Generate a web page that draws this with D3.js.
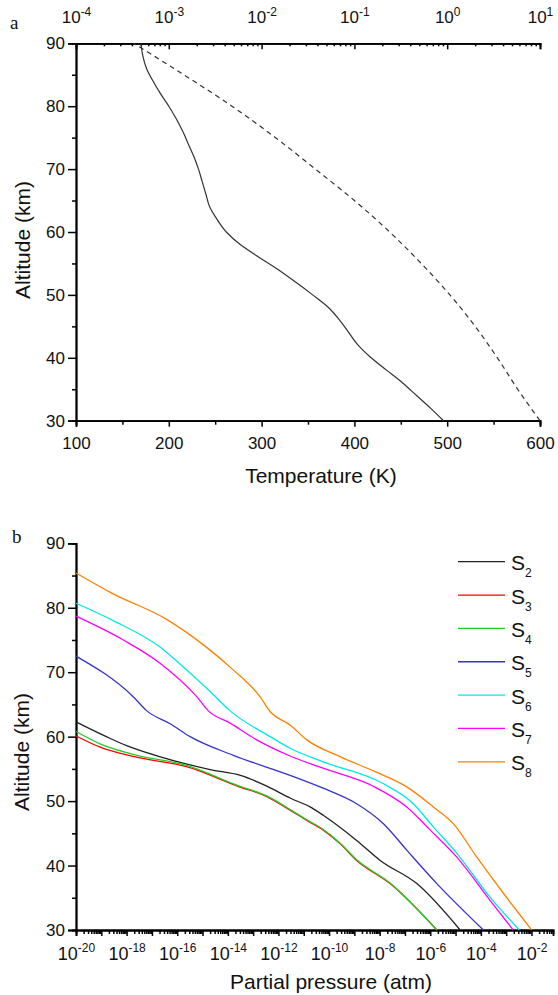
<!DOCTYPE html>
<html><head><meta charset="utf-8">
<script src="https://cdn.jsdelivr.net/npm/d3@7"></script>
<style>html,body{margin:0;padding:0;background:#fff;}svg{display:block;}</style>
</head><body>
<svg id="c" width="558" height="995"></svg>
<script>
// ---------- Panel a data ----------
const tempAlt = [30,32,34,36,38,40,42,44,46,48,50,52,54,56,58,60,62,64,66,68,70,72,74,76,78,80,82,84,86,88,90];
const tempK   = [496,482,467,452,435,418,404,394,384,372,355,337,318,297,277,262,252,244,240,236,232,227,221,215,208,200,191,183,176,172,170];
const presAlt = [30,35,40,45,50,55,60,65,70,75,80,85,90];
const presAtm = [10,5.75,3.47,2.0,1.07,0.525,0.24,0.1,0.038,0.0141,0.00479,0.00145,0.000417];
const tempTicks = [100,200,300,400,500,600];
const presTicks = [1e-4,1e-3,1e-2,1e-1,1e0,1e1];
const altTicks = [30,40,50,60,70,80,90];

// ---------- Panel b data (log10 partial pressure in atm, altitude in km) ----------
const species = ["2","3","4","5","6","7","8"];
const colors  = ["#222222","#ff0000","#22cc22","#3333cc","#00e8e8","#ff00ff","#ff8000"];
const s2LogP = [-20,-18.8,-18,-16.7,-14.7,-13.5,-12.5,-11.5,-10.75,-10.23,-8.91,-7.98,-6.53,-4.82];
const s2Alt  = [62.3,60,58.6,56.9,54.9,54.0,52.4,50.4,49.1,47.8,43.9,40.8,37.2,30];
const s3LogP = [-20,-19,-17.7,-15.6,-13.6,-12.46,-11.54,-10.88,-10.23,-9.57,-8.91,-7.59,-5.74];
const s3Alt  = [60.1,58.3,56.9,55.3,52.3,50.7,48.6,47.0,45.5,43.4,40.8,37.2,30];
const s4LogP = [-20,-19,-17.7,-15.6,-13.6,-12.46,-11.54,-10.88,-10.23,-9.57,-8.91,-7.59,-5.74];
const s4Alt  = [60.8,58.8,57.2,55.5,52.4,50.8,48.7,47.1,45.6,43.5,40.9,37.3,30];
const s5LogP = [-20,-17.74,-17.2,-16.28,-15.49,-13.78,-11.54,-10.23,-8.91,-7.85,-6.93,-5.74,-3.9];
const s5Alt  = [72.5,66.2,64,62,60,57.1,54.0,52,49.6,46.5,42.4,37.2,30];
const s6LogP = [-20,-18.53,-16.68,-15.76,-14.7,-13.91,-12.33,-11.54,-10.23,-7.85,-6.67,-5.88,-4.95,-3.64,-2.48];
const s6Alt  = [80.7,78,73.9,70.8,67,64,60,58.2,56.1,52.7,49.6,46,41.9,35.1,30];
const s7LogP = [-20,-18.13,-16.68,-15.23,-14.77,-13.91,-12.86,-11.54,-10.23,-8.25,-6.93,-6.0,-4.95,-3.64,-2.72];
const s7Alt  = [78.7,75,71.4,66.2,64,62.1,59.5,57,55.1,52.3,49.1,45.5,41.3,34.6,30];
const s8LogP = [-20,-18.55,-16.42,-14.95,-13.8,-12.73,-12.33,-11.54,-10.88,-9.57,-8.2,-6.93,-5.88,-5.09,-4.16,-3.11,-1.99];
const s8Alt  = [85.4,82.2,78.2,74.2,70.4,66.2,63.9,61.8,59.5,56.9,54.6,52.2,49.1,46.5,41.3,35.7,30];
const bLogTicks = [-20,-18,-16,-14,-12,-10,-8,-6,-4,-2];

const seriesLogP = [s2LogP,s3LogP,s4LogP,s5LogP,s6LogP,s7LogP,s8LogP];
const seriesAlt  = [s2Alt,s3Alt,s4Alt,s5Alt,s6Alt,s7Alt,s8Alt];

const FONT = "'Liberation Sans', Arial, Helvetica, sans-serif";
const svg = d3.select("#c");
svg.append("rect").attr("width",558).attr("height",995).attr("fill","#fff");

// ---------- scales ----------
const xT = d3.scaleLinear().domain([100,600]).range([76,540]);
const xP = d3.scaleLog().domain([1e-4,1e1]).range([76,540]);
const yA = d3.scaleLinear().domain([30,90]).range([420.7,43.3]);
const xB = d3.scaleLog().domain([1e-20, Math.pow(10,-1.15)]).range([76,553]);
const yB = d3.scaleLinear().domain([30,90]).range([930,543.3]);

function styleAxis(g){
  g.selectAll(".domain").attr("stroke","#000").attr("stroke-width",1.8);
  g.selectAll(".tick line").attr("stroke","#000").attr("stroke-width",1.5);
  g.selectAll("text").attr("font-family",FONT).attr("font-size",17).attr("fill","#111");
}
function minorsLog(lo,hi){
  const out=[];
  for(let e=lo;e<hi;e++){ for(let m=2;m<=9;m++){ out.push(m*Math.pow(10,e)); } }
  return out;
}
function supLabel(sel, baseSize, supSize, supDy){
  sel.each(function(d){
    const t=d3.select(this); const e=Math.round(Math.log10(d));
    t.text(null);
    t.append("tspan").attr("font-size",baseSize).text("10");
    t.append("tspan").attr("font-size",supSize).attr("dy",supDy).text(String(e).replace("\u2212","-"));
  });
}

// ================= Panel a =================
const ga = svg.append("g");
ga.append("g").attr("transform","translate(76,0)")
  .call(d3.axisLeft(yA).tickValues([35,45,55,65,75,85]).tickSize(4).tickFormat(""))
  .call(styleAxis);
ga.append("g").attr("transform","translate(76,0)")
  .call(d3.axisLeft(yA).tickValues(altTicks).tickSize(8).tickPadding(3).tickFormat(d3.format("d")))
  .call(styleAxis);
ga.append("g").attr("transform","translate(0,420.7)")
  .call(d3.axisBottom(xT).tickValues([150,250,350,450,550]).tickSize(4).tickFormat(""))
  .call(styleAxis);
ga.append("g").attr("transform","translate(0,420.7)")
  .call(d3.axisBottom(xT).tickValues(tempTicks).tickSize(6).tickPadding(10).tickFormat(d3.format("d")))
  .call(styleAxis);
ga.append("g").attr("transform","translate(0,43.3)")
  .call(d3.axisTop(xP).tickValues(minorsLog(-4,1)).tickSize(-3).tickFormat(""))
  .call(styleAxis);
const gTop = ga.append("g").attr("transform","translate(0,43.3)")
  .call(d3.axisTop(xP).tickValues(presTicks).tickSize(-6).tickPadding(20).tickFormat(d=>d))
  .call(styleAxis);
gTop.selectAll(".tick text").call(supLabel,17,12,-7);

const lineT = d3.line().curve(d3.curveMonotoneY).x((d,i)=>xT(tempK[i])).y((d,i)=>yA(tempAlt[i]));
ga.append("path").datum(tempAlt).attr("d",lineT).attr("fill","none")
  .attr("stroke","#333").attr("stroke-width",1.2);
const lineP = d3.line().curve(d3.curveMonotoneY).x((d,i)=>xP(presAtm[i])).y((d,i)=>yA(presAlt[i]));
ga.append("path").datum(presAlt).attr("d",lineP).attr("fill","none")
  .attr("stroke","#333").attr("stroke-width",1.2).attr("stroke-dasharray","5,4");

ga.append("text").attr("x",321).attr("y",483).attr("text-anchor","middle")
  .attr("font-family",FONT).attr("font-size",21).attr("fill","#111").text("Temperature (K)");
ga.append("text").attr("transform","translate(30,240) rotate(-90)").attr("text-anchor","middle")
  .attr("font-family",FONT).attr("font-size",21).attr("fill","#111").text("Altitude (km)");
ga.append("text").attr("x",10).attr("y",29).attr("font-family","'Liberation Serif', 'Times New Roman', serif")
  .attr("font-size",19).attr("fill","#111").text("a");

// ================= Panel b =================
const gb = svg.append("g");
gb.append("g").attr("transform","translate(76,0)")
  .call(d3.axisLeft(yB).tickValues([35,45,55,65,75,85]).tickSize(4).tickFormat(""))
  .call(styleAxis);
gb.append("g").attr("transform","translate(76,0)")
  .call(d3.axisLeft(yB).tickValues(altTicks).tickSize(8).tickPadding(3).tickFormat(d3.format("d")))
  .call(styleAxis);
gb.append("g").attr("transform","translate(0,930)")
  .call(d3.axisBottom(xB).tickValues(minorsLog(-20,-2).concat([2e-2,3e-2,4e-2,5e-2,6e-2,7e-2])).tickSize(4).tickFormat(""))
  .call(styleAxis);
gb.append("g").attr("transform","translate(0,930)")
  .call(d3.axisBottom(xB).tickValues(d3.range(-20,-1).map(e=>Math.pow(10,e))).tickSize(6).tickFormat(""))
  .call(styleAxis);
const gbx = gb.append("g").attr("transform","translate(0,930)")
  .call(d3.axisBottom(xB).tickValues(bLogTicks.map(e=>Math.pow(10,e))).tickSize(0).tickPadding(18).tickFormat(d=>d))
  .call(styleAxis);
gbx.select(".domain").remove();
gbx.selectAll(".tick text").call(supLabel,18,12,-8);

const lineB = (lp,al)=>d3.line().curve(d3.curveMonotoneX)
  .x((d,i)=>xB(Math.pow(10,lp[i]))).y((d,i)=>yB(al[i]));
species.forEach((s,k)=>{
  gb.append("path").datum(seriesAlt[k]).attr("d",lineB(seriesLogP[k],seriesAlt[k]))
    .attr("fill","none").attr("stroke",colors[k]).attr("stroke-width",1.3);
});

const leg = gb.append("g");
species.forEach((s,k)=>{
  const y = 561.7 + k*33.35;
  leg.append("line").attr("x1",458).attr("x2",505).attr("y1",y).attr("y2",y)
    .attr("stroke",colors[k]).attr("stroke-width",1.3);
  const t = leg.append("text").attr("x",511).attr("y",y+8.5).attr("font-family",FONT).attr("fill","#111");
  t.append("tspan").attr("font-size",21).text("S");
  t.append("tspan").attr("font-size",12).attr("dy",7).text(s);
});

gb.append("text").attr("x",331).attr("y",989).attr("text-anchor","middle")
  .attr("font-family",FONT).attr("font-size",21).attr("fill","#111").text("Partial pressure (atm)");
gb.append("text").attr("transform","translate(29,752) rotate(-90)").attr("text-anchor","middle")
  .attr("font-family",FONT).attr("font-size",21).attr("fill","#111").text("Altitude (km)");
gb.append("text").attr("x",12).attr("y",543).attr("font-family","'Liberation Serif', 'Times New Roman', serif")
  .attr("font-size",19).attr("fill","#111").text("b");
</script>
</body></html>
